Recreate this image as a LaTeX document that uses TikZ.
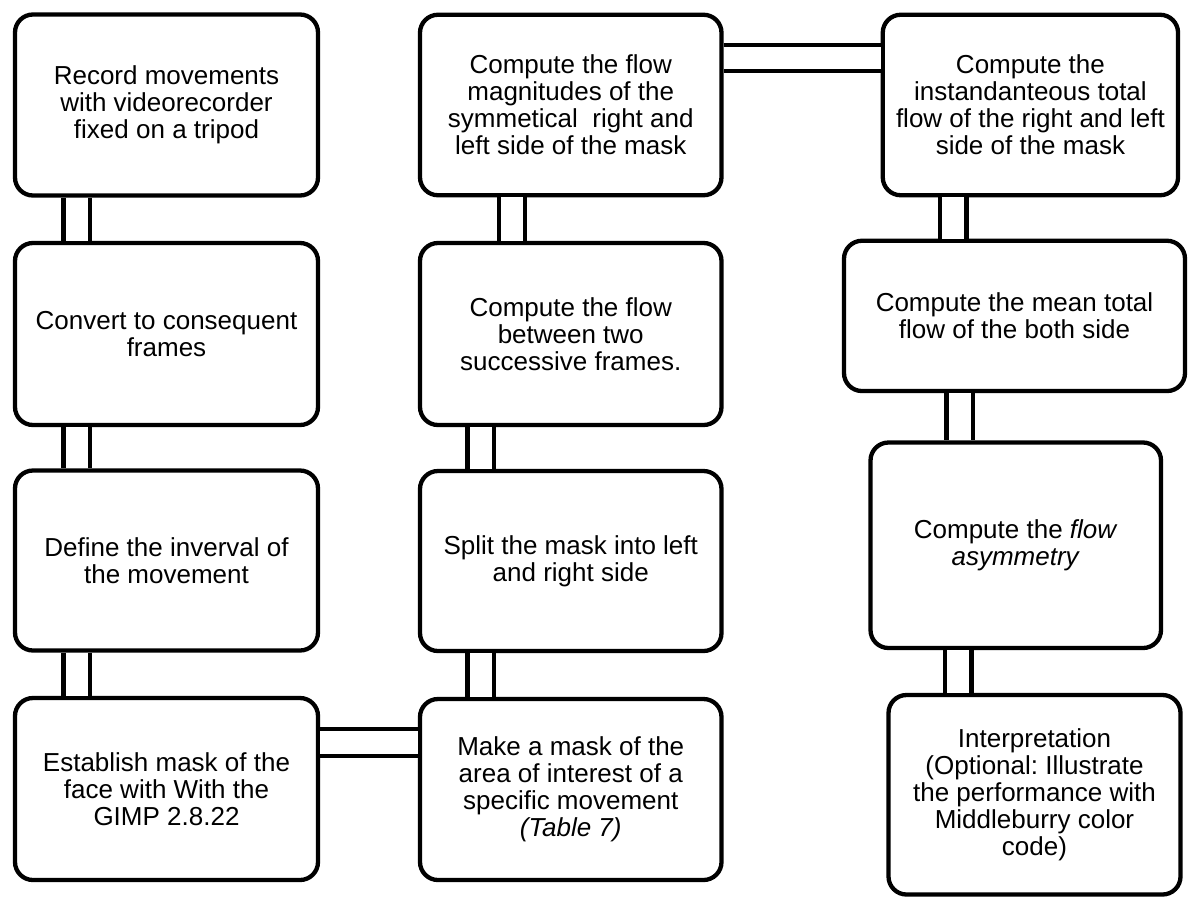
\documentclass[tikz,border=0pt]{standalone}
\usepackage{fontspec}
\setmainfont{Liberation Sans}
\frenchspacing
\begin{document}
\begin{tikzpicture}[x=1pt,y=-1pt,
  box/.style={draw=black, line width=4.3pt, rounded corners=18pt, align=center, inner sep=0pt,
    font=\fontsize{26}{27}\selectfont},
  conn/.style={draw=black, line width=4.3pt, double=white, double distance=22.2pt}]
\useasboundingbox (0,0) rectangle (1188,898);
% column 1
\node[box, minimum width=303pt, minimum height=181pt] (c1a) at (166.5,105)
  {Record movements\\with videorecorder\\fixed on a tripod};
\node[box, minimum width=303pt, minimum height=182pt] (c1b) at (166.5,334)
  {Convert to consequent\\frames};
\node[box, minimum width=303pt, minimum height=180pt] (c1c) at (166.5,560.5)
  {Define the inverval of\\the movement};
\node[box, minimum width=303pt, minimum height=182pt] (c1d) at (166.5,789)
  {Establish mask of the\\face with With the\\GIMP 2.8.22};
% column 2
\node[box, minimum width=301.5pt, minimum height=180.5pt] (c2a) at (570.75,105)
  {Compute the flow\\magnitudes of the\\symmetical\ \ right and\\left side of the mask};
\node[box, minimum width=301.5pt, minimum height=182pt] (c2b) at (570.75,334)
  {Compute the flow\\between two\\successive frames.};
\node[box, minimum width=301.5pt, minimum height=180pt] (c2c) at (570.75,561)
  {Split the mask into left\\and right side};
\node[box, minimum width=301.5pt, minimum height=181pt] (c2d) at (570.75,789.5)
  {Make a mask of the\\area of interest of a\\specific movement\\\textit{(Table 7)}};
% column 3
\node[box, minimum width=295.3pt, minimum height=180.5pt] (c3a) at (1030.4,105)
  {Compute the\\instandanteous total\\flow of the right and left\\side of the mask};
\node[box, minimum width=341pt, minimum height=150.3pt] (c3b) at (1014.5,315.9)
  {Compute the mean total\\flow of the both side};
\node[box, minimum width=290.5pt, minimum height=205.5pt] (c3c) at (1015.75,545.25)
  {Compute the \textit{flow}\\\textit{asymmetry}};
\node[box, minimum width=292pt, minimum height=199.5pt] (c3d) at (1034.5,794.75)
  {Interpretation\\(Optional: Illustrate\\the performance with\\Middleburry color\\code)};
% connectors
\draw[conn] ([xshift=-89.8pt]c1a.south) -- ([xshift=-89.8pt]c1b.north);
\draw[conn] ([xshift=-89.8pt]c1b.south) -- ([xshift=-89.8pt]c1c.north);
\draw[conn] ([xshift=-89.8pt]c1c.south) -- ([xshift=-89.8pt]c1d.north);
\draw[conn] ([yshift=46.5pt]c1d.east) -- ([yshift=46.5pt]c1d.east -| c2d.west);
\draw[conn] ([xshift=-90pt]c2d.north) -- ([xshift=-90pt]c2c.south);
\draw[conn] ([xshift=-90pt]c2c.north) -- ([xshift=-90pt]c2b.south);
\draw[conn] ([xshift=-58.75pt]c2b.north) -- ([xshift=-58.75pt]c2a.south);
\draw[conn] ([yshift=47pt]c2a.east) -- ([yshift=47pt]c2a.east -| c3a.west);
\draw[conn] ([xshift=-77.15pt]c3a.south) -- ([xshift=-77.15pt]c3a.south |- c3b.north);
\draw[conn] ([xshift=-54.9pt]c3b.south) -- ([xshift=-54.9pt]c3b.south |- c3c.north);
\draw[conn] ([xshift=-57.45pt]c3c.south) -- ([xshift=-57.45pt]c3c.south |- c3d.north);
\end{tikzpicture}
\end{document}
